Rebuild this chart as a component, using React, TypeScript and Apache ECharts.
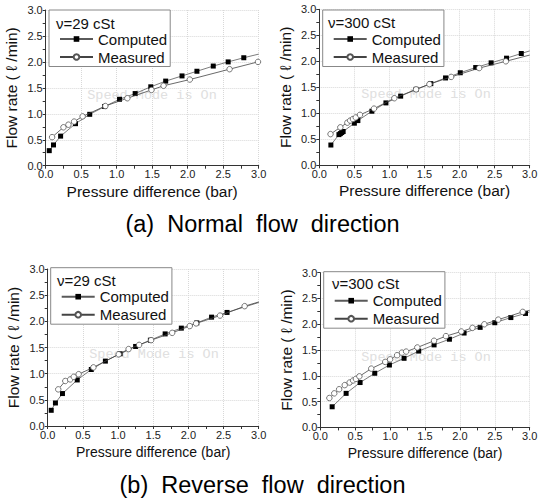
import React, { useEffect, useRef } from "react";
import * as echarts from "echarts";

// ---------- data (x = pressure difference [bar], y = flow rate [l/min]) ----------
const xTickValues = [0, 0.5, 1, 1.5, 2, 2.5, 3];
const yTickValues = [0, 0.5, 1, 1.5, 2, 2.5, 3];

const normal29Computed = [
  [0.05, 0.29], [0.11, 0.40], [0.21, 0.57], [0.42, 0.81], [0.62, 0.99], [0.83, 1.14],
  [1.04, 1.28], [1.26, 1.39], [1.48, 1.52], [1.69, 1.63], [1.92, 1.73], [2.13, 1.82],
  [2.36, 1.92], [2.57, 2.0], [2.79, 2.08],
];
const normal29ComputedEnd = 2.15;
const normal29Measured = [
  [0.09, 0.55], [0.25, 0.74], [0.32, 0.79], [0.40, 0.85], [0.52, 0.95], [0.84, 1.15],
  [1.15, 1.30], [1.49, 1.46], [1.66, 1.54], [2.03, 1.66], [2.59, 1.86], [2.99, 2.0],
];
const normal29MeasuredEnd = null;

const normal300Computed = [
  [0.165, 0.39], [0.28, 0.59], [0.30, 0.61], [0.32, 0.63], [0.34, 0.65], [0.50, 0.81],
  [0.55, 0.86], [0.75, 1.04], [0.95, 1.20], [1.16, 1.33], [1.38, 1.46], [1.59, 1.57],
  [1.80, 1.68], [2.01, 1.78], [2.23, 1.88], [2.45, 1.97], [2.67, 2.06], [2.88, 2.15],
];
const normal300ComputedEnd = 2.2;
const normal300Measured = [
  [0.16, 0.60], [0.30, 0.73], [0.40, 0.82], [0.44, 0.86], [0.48, 0.89], [0.52, 0.92],
  [0.58, 0.97], [0.78, 1.09], [1.07, 1.29], [1.38, 1.46], [1.57, 1.56], [1.88, 1.70],
  [2.28, 1.87], [2.66, 2.0],
];
const normal300MeasuredEnd = 2.12;

const reverse29Computed = [
  [0.05, 0.30], [0.11, 0.44], [0.21, 0.62], [0.42, 0.88], [0.62, 1.08], [0.82, 1.24],
  [1.03, 1.38], [1.25, 1.52], [1.46, 1.64], [1.67, 1.76], [1.90, 1.87], [2.12, 1.97],
  [2.33, 2.08], [2.55, 2.17],
];
const reverse29ComputedEnd = 2.36;
const reverse29Measured = [
  [0.15, 0.70], [0.25, 0.86], [0.32, 0.89], [0.37, 0.94], [0.44, 0.99], [0.65, 1.12],
  [1.01, 1.37], [1.15, 1.47], [1.30, 1.55], [1.47, 1.64], [1.77, 1.78], [2.02, 1.91],
  [2.11, 1.96], [2.45, 2.11], [2.80, 2.29],
];
const reverse29MeasuredEnd = 2.37;

const reverse300Computed = [
  [0.17, 0.40], [0.37, 0.66], [0.57, 0.87], [0.78, 1.05], [0.99, 1.21], [1.20, 1.34],
  [1.41, 1.48], [1.63, 1.60], [1.85, 1.71], [2.06, 1.83], [2.29, 1.94], [2.50, 2.03],
  [2.73, 2.13], [2.94, 2.21],
];
const reverse300ComputedEnd = 2.24;
const reverse300Measured = [
  [0.13, 0.57], [0.20, 0.66], [0.27, 0.74], [0.35, 0.82], [0.42, 0.87], [0.47, 0.91],
  [0.51, 0.94], [0.56, 0.99], [0.73, 1.14], [0.93, 1.27], [1.00, 1.32], [1.10, 1.40],
  [1.17, 1.45], [1.23, 1.47], [1.39, 1.55], [1.63, 1.68], [1.80, 1.77], [2.02, 1.86],
  [2.18, 1.93], [2.35, 2.0], [2.55, 2.09], [2.90, 2.24],
];
const reverse300MeasuredEnd = 2.27;

const seriesNames = ["Computed", "Measured"];
const viscosityLabels = ["ν=29 cSt", "ν=300 cSt", "ν=29 cSt", "ν=300 cSt"];
const xAxisTitle = "Pressure difference (bar)";
const yAxisTitle = "Flow rate ( ℓ /min)";
const captions = ["(a)  Normal  flow  direction", "(b)  Reverse  flow  direction"];
const watermark = "Speed Mode is On";

// ---------- layout ----------
const FONT = "'Liberation Sans', Arial, Helvetica, sans-serif";
const TICK_FONT = "'Liberation Sans Narrow', 'Liberation Sans', Arial, sans-serif";

const panels = [
  {
    grid: { left: 45.7, top: 10, width: 213, height: 155.7 },
    legend: { left: 49, top: 10 }, title: [56, 23], wm: [152, 95],
    comp: normal29Computed, compEnd: normal29ComputedEnd,
    meas: normal29Measured, measEnd: normal29MeasuredEnd,
    xNameSize: 15.5, xNameGap: 17.5,
  },
  {
    grid: { left: 319.3, top: 9.3, width: 210.4, height: 156 },
    legend: { left: 322.7, top: 10 }, title: [328, 22.7], wm: [426, 94],
    comp: normal300Computed, compEnd: normal300ComputedEnd,
    meas: normal300Measured, measEnd: normal300MeasuredEnd,
    xNameSize: 15.5, xNameGap: 17.5,
  },
  {
    grid: { left: 47.7, top: 269, width: 211, height: 157 },
    legend: { left: 50.7, top: 267.7 }, title: [57, 280.5], wm: [154, 354],
    comp: reverse29Computed, compEnd: reverse29ComputedEnd,
    meas: reverse29Measured, measEnd: reverse29MeasuredEnd,
    xNameSize: 14, xNameGap: 19,
  },
  {
    grid: { left: 320.3, top: 272.7, width: 209.4, height: 154.7 },
    legend: { left: 323.7, top: 271.7 }, title: [332, 283.5], wm: [426, 357],
    comp: reverse300Computed, compEnd: reverse300ComputedEnd,
    meas: reverse300Measured, measEnd: reverse300MeasuredEnd,
    xNameSize: 14, xNameGap: 18.5,
  },
];

function buildData(points: number[][], end: number | null) {
  const data: any[] = points.map((p) => [p[0], p[1]]);
  if (end !== null) data.push({ value: [xTickValues[xTickValues.length - 1], end], symbol: "none" });
  return data;
}

function axisCommon() {
  return {
    min: xTickValues[0],
    max: xTickValues[xTickValues.length - 1],
    interval: xTickValues[1] - xTickValues[0],
    axisLine: { show: true, onZero: false, lineStyle: { color: "#333", width: 1 } },
    axisTick: { show: true, length: 3, lineStyle: { color: "#333" } },
    minorTick: { show: true, splitNumber: 2, length: 3, lineStyle: { color: "#333" } },
    splitLine: { show: true, lineStyle: { color: "#d8d8d8", type: "dotted", width: 1 } },
    axisLabel: {
      color: "#222", fontSize: 11, fontFamily: TICK_FONT, margin: 3,
      formatter: (v: number) => v.toFixed(1),
    },
  };
}

export default function App() {
  const ref = useRef<HTMLDivElement>(null);
  useEffect(() => {
    if (!ref.current) return;
    const chart = echarts.init(ref.current, undefined, { renderer: "svg" });

    const grid = panels.map((p) => ({ ...p.grid, containLabel: false }));
    const xAxis = panels.map((p, i) => ({
      type: "value", gridIndex: i, ...axisCommon(),
      name: xAxisTitle, nameLocation: "middle", nameGap: p.xNameGap,
      nameTextStyle: { fontSize: p.xNameSize, fontFamily: FONT, color: "#111" },
    }));
    const yAxis = panels.map((p, i) => ({
      type: "value", gridIndex: i, ...axisCommon(),
      min: yTickValues[0], max: yTickValues[yTickValues.length - 1],
      interval: yTickValues[1] - yTickValues[0],
      name: yAxisTitle, nameLocation: "middle", nameGap: 26,
      nameTextStyle: { fontSize: 15.5, fontFamily: FONT, color: "#111" },
    }));

    const series: any[] = [];
    panels.forEach((p, i) => {
      series.push({
        name: seriesNames[0], type: "line", xAxisIndex: i, yAxisIndex: i,
        data: buildData(p.comp, p.compEnd),
        symbol: "rect", symbolSize: 5, showSymbol: true,
        itemStyle: { color: "#000" },
        lineStyle: { color: "#5a5a5a", width: 0.8 },
        z: 3,
      });
      series.push({
        name: seriesNames[1], type: "line", xAxisIndex: i, yAxisIndex: i,
        data: buildData(p.meas, p.measEnd),
        symbol: "circle", symbolSize: 5.5, showSymbol: true,
        itemStyle: { color: "#fff", borderColor: "#555", borderWidth: 0.8 },
        lineStyle: { color: "#444", width: 0.8 },
        z: 4,
      });
    });

    const legend = panels.map((p) => ({
      data: seriesNames,
      left: p.legend.left, top: p.legend.top,
      orient: "vertical",
      padding: [21, 3, 1.5, 10],
      itemWidth: 33, itemHeight: 7, itemGap: 2,
      borderColor: "#888", borderWidth: 1,
      backgroundColor: "#fff",
      selectedMode: false,
      textStyle: { fontSize: 15, lineHeight: 16, fontFamily: FONT, color: "#111" },
    }));

    const graphic: any[] = [];
    panels.forEach((p, i) => {
      graphic.push({
        type: "text", x: p.wm[0], y: p.wm[1], z: 0, silent: true,
        style: {
          text: watermark, fill: "#e0e0e0", fontSize: 13.5,
          fontFamily: "'Liberation Mono', 'DejaVu Sans Mono', monospace",
          textAlign: "center", textVerticalAlign: "middle",
        },
      });
      graphic.push({
        type: "text", x: p.title[0], y: p.title[1], z: 100,
        style: {
          text: viscosityLabels[i], fill: "#111", fontSize: 15, fontFamily: FONT,
          textAlign: "left", textVerticalAlign: "middle",
        },
      });
    });
    graphic.push({
      type: "text", x: 262.5, y: 223.5,
      style: { text: captions[0], fill: "#000", fontSize: 23.5, fontFamily: FONT, textAlign: "center", textVerticalAlign: "middle" },
    });
    graphic.push({
      type: "text", x: 262.5, y: 485,
      style: { text: captions[1], fill: "#000", fontSize: 23.5, fontFamily: FONT, textAlign: "center", textVerticalAlign: "middle" },
    });

    chart.setOption({
      animation: false,
      backgroundColor: "#fff",
      grid, xAxis, yAxis, series, legend, graphic,
    });
    return () => chart.dispose();
  }, []);

  return (
    <div
      ref={ref}
      style={{ position: "fixed", left: 0, top: 0, width: 542, height: 498, background: "#fff" }}
    />
  );
}
